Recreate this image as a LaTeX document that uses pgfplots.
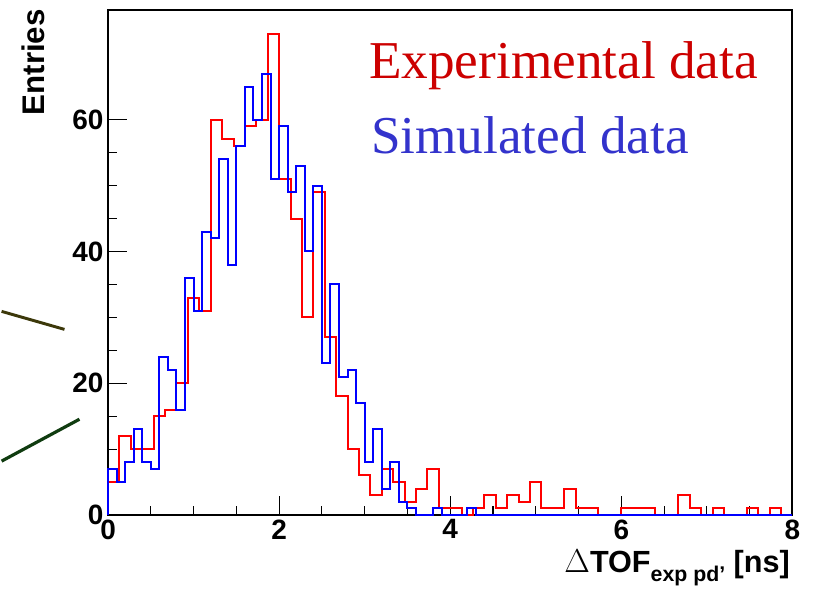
\documentclass[border=0pt]{standalone}
\usepackage{fontspec}
\setmainfont{Liberation Sans}
\newfontfamily\timesfont{Liberation Serif}
\usepackage{pgfplots}
\pgfplotsset{compat=1.18}
\definecolor{legred}{RGB}{204,0,0}
\definecolor{legblue}{RGB}{51,51,204}
\definecolor{lineA}{RGB}{60,56,10}
\definecolor{lineB}{RGB}{16,60,16}
\begin{document}
\begin{tikzpicture}
\begin{axis}[
  scale only axis,
  width=514.2pt, height=379.5pt,
  xmin=0, xmax=8, ymin=0, ymax=76.65,
  axis line style={line width=1.4pt},
  xtick={0,2,4,6,8}, ytick={0,20,40,60},
  minor x tick num=3, minor y tick num=3,
  tick align=inside, tick pos=left,
  major tick length=14pt, minor tick length=7pt,
  tick style={black, line width=0.8pt},
  /pgf/number format/assume math mode=true,
  ticklabel style={font=\bfseries\fontsize{21}{21}\selectfont},
  clip=false,
]
\addplot[const plot, color=red, line width=1.5pt] coordinates {
(0,0) (0,5) (0.1333,12) (0.2667,10) (0.4,10) (0.5333,15) (0.6667,16) (0.8,20) (0.9333,33) (1.0667,31)
(1.2,60) (1.3333,57) (1.4667,56) (1.6,59) (1.7333,60) (1.8667,73) (2.0,51) (2.1333,45) (2.2667,30) (2.4,49)
(2.5333,27) (2.6667,18) (2.8,10) (2.9333,6) (3.0667,3) (3.2,7) (3.3333,5) (3.4667,2) (3.6,4) (3.7333,7)
(3.8667,1) (4.0,1) (4.1333,0) (4.2667,1) (4.4,3) (4.5333,1) (4.6667,3) (4.8,2) (4.9333,5) (5.0667,1)
(5.2,1) (5.3333,4) (5.4667,1) (5.6,1) (5.7333,0) (5.8667,0) (6.0,1) (6.1333,1) (6.2667,1) (6.4,0)
(6.5333,0) (6.6667,3) (6.8,1) (6.9333,0) (7.0667,1) (7.2,0) (7.3333,0) (7.4667,1) (7.6,0) (7.7333,1)
(7.8667,0) (8,0)
};
\addplot[const plot, color=blue, line width=1.5pt] coordinates {
(0,0) (0,7) (0.1,5) (0.2,8) (0.3,13) (0.4,8) (0.5,7) (0.6,24) (0.7,22) (0.8,16) (0.9,36)
(1.0,31) (1.1,43) (1.2,42) (1.3,54) (1.4,38) (1.5,56) (1.6,65) (1.7,60) (1.8,67) (1.9,51)
(2.0,59) (2.1,49) (2.2,53) (2.3,40) (2.4,50) (2.5,23) (2.6,35) (2.7,21) (2.8,22) (2.9,17)
(3.0,8) (3.1,13) (3.2,4) (3.3,8) (3.4,2) (3.5,1) (3.6,0) (3.7,0) (3.8,1) (3.9,0)
(4.0,0) (4.1,0) (4.2,1) (4.3,0) (8,0)
};
\node[anchor=base west, text=legred, font=\timesfont\fontsize{40}{40}\selectfont, inner sep=0pt]
  at (rel axis cs:0.3811,0.8636) {Experimental data};
\node[anchor=base west, text=legblue, font=\timesfont\fontsize{40}{40}\selectfont, inner sep=0pt]
  at (rel axis cs:0.3840,0.7154) {Simulated data};
\node[rotate=90, anchor=base east, inner sep=0pt, font=\bfseries\fontsize{23.5}{23.5}\selectfont]
  at (rel axis cs:-0.0929,1.002) {Entries};
\node[anchor=base east, inner sep=0pt, font=\bfseries\fontsize{23}{23}\selectfont]
  at (rel axis cs:0.9967,-0.1132) {$\Delta$TOF\raisebox{-0.32em}{\fontsize{16}{16}\selectfont exp pd’} [ns]};
\draw[lineA, line width=2.2pt] (rel axis cs:-0.1556,0.4032) -- (rel axis cs:-0.0637,0.3676);
\draw[lineB, line width=2.4pt] (rel axis cs:-0.1556,0.1067) -- (rel axis cs:-0.0418,0.1897);
\path (rel axis cs:-0.1556,-0.1542) rectangle (rel axis cs:1.0302,1.0198);
\end{axis}
\end{tikzpicture}
\end{document}
